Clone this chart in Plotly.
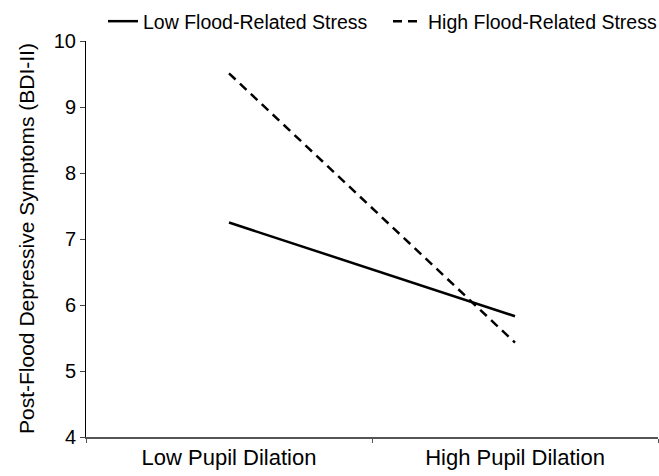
import plotly.graph_objects as go

categories = ["Low Pupil Dilation", "High Pupil Dilation"]
low_stress = [7.25, 5.83]
high_stress = [9.51, 5.43]
series_names = ["Low Flood-Related Stress", "High Flood-Related Stress"]
y_ticks = [4, 5, 6, 7, 8, 9, 10]
y_title = "Post-Flood Depressive Symptoms (BDI-II)"

FONT = "Liberation Sans, Arial, sans-serif"

fig = go.Figure()
fig.add_trace(go.Scatter(x=categories, y=low_stress, mode="lines", name=series_names[0],
                         line=dict(color="black", width=2.5)))
fig.add_trace(go.Scatter(x=categories, y=high_stress, mode="lines", name=series_names[1],
                         line=dict(color="black", width=2.5, dash="9px,6px")))

fig.add_annotation(text=y_title, xref="paper", yref="paper", x=0, y=0.5,
                   xshift=-60, xanchor="center", yanchor="middle", textangle=-90,
                   showarrow=False, font=dict(size=21, color="black"))

fig.update_layout(
    width=659, height=476,
    margin=dict(l=86, r=1, t=41, b=39, autoexpand=False),
    paper_bgcolor="white", plot_bgcolor="white",
    font=dict(family=FONT, size=20, color="black"),
    showlegend=True,
    legend=dict(orientation="h", x=0.0297, xanchor="left", y=1.0, yanchor="bottom",
                font=dict(size=19.5), entrywidth=240, entrywidthmode="pixels",
                tracegroupgap=0, bgcolor="rgba(0,0,0,0)"),
    xaxis=dict(type="category", range=[-0.5, 1.5], showline=True, linecolor="#555",
               linewidth=2, ticks="outside", tickson="boundaries", ticklen=4,
               tickcolor="#555", showgrid=False, zeroline=False, automargin=False,
               tickfont=dict(size=22)),
    yaxis=dict(range=[4, 10], tickvals=y_ticks, showline=True, linecolor="black",
               linewidth=1, ticks="outside", ticklen=5, showgrid=False, zeroline=False,
               automargin=False, tickfont=dict(size=20)),
)

fig.write_html("out.html", config={"displayModeBar": False},
               post_script="document.body.style.margin='0';")
